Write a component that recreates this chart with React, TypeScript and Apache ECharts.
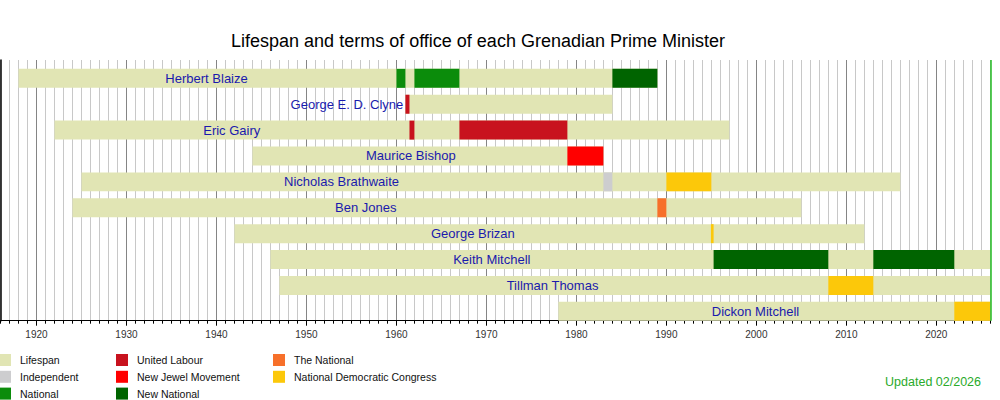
import React, { useEffect, useRef } from "react";
import * as echarts from "echarts";

const FONT = "'Liberation Sans', Arial, Helvetica, sans-serif";

const MIN_YEAR = 1916;
const MAX_YEAR = 2026;
const MAJOR_YEARS = [1920, 1930, 1940, 1950, 1960, 1970, 1980, 1990, 2000, 2010, 2020];
const UPDATED_YEAR = 2026;

const primeMinisters = [
  "Herbert Blaize",
  "George E. D. Clyne",
  "Eric Gairy",
  "Maurice Bishop",
  "Nicholas Brathwaite",
  "Ben Jones",
  "George Brizan",
  "Keith Mitchell",
  "Tillman Thomas",
  "Dickon Mitchell",
];
// year at which each name label is centred
const labelYears = [1938.9, 1954.5, 1941.7, 1961.6, 1953.9, 1956.6, 1968.5, 1970.6, 1977.35, 1999.9];

// [start, end, row]
const lifespan = [
  [1918, 1989, 0],
  [1961, 1984, 1],
  [1922, 1997, 2],
  [1944, 1983, 3],
  [1925, 2016, 4],
  [1924, 2005, 5],
  [1942, 2012, 6],
  [1946, 2026, 7],
  [1947, 2026, 8],
  [1978, 2026, 9],
];
const independent = [[1983, 1984, 4]];
const national = [
  [1960, 1961, 0],
  [1962, 1967, 0],
];
const unitedLabour = [
  [1961, 1961.45, 1],
  [1961.45, 1962, 2],
  [1967, 1979, 2],
];
const newJewelMovement = [[1979, 1983, 3]];
const newNational = [
  [1984, 1989, 0],
  [1995.25, 2008, 7],
  [2013, 2022, 7],
];
const theNational = [[1989, 1990, 5]];
const ndc = [
  [1990, 1995, 4],
  [1994.95, 1995.25, 6],
  [2008, 2013, 8],
  [2022, 2026, 9],
];

const seriesDefs = [
  { name: "Lifespan", color: "#e1e5b4", data: lifespan },
  { name: "Independent", color: "#cdcdcf", data: independent },
  { name: "National", color: "#0b8c0b", data: national },
  { name: "United Labour", color: "#c8121e", data: unitedLabour },
  { name: "New Jewel Movement", color: "#ff0000", data: newJewelMovement },
  { name: "New National", color: "#006400", data: newNational },
  { name: "The National", color: "#f7702a", data: theNational },
  { name: "National Democratic Congress", color: "#fcc80a", data: ndc },
];

const legendColumns = [
  ["Lifespan", "Independent", "National"],
  ["United Labour", "New Jewel Movement", "New National"],
  ["The National", "National Democratic Congress"],
];
const legendLeft = [-1, 116, 273];

const BAR_HEIGHT = 0.734;

export default function App() {
  const ref = useRef<HTMLDivElement>(null);

  useEffect(() => {
    if (!ref.current) return;
    const chart = echarts.init(ref.current, undefined, { renderer: "svg" });

    const splitColors = Array.from({ length: 10 }, (_, i) =>
      (MIN_YEAR + i) % 10 === 0 ? "#858585" : "#c8c8c8"
    );

    const barSeries = seriesDefs.map((s, si) => ({
      type: "custom",
      name: s.name,
      xAxisIndex: 0,
      yAxisIndex: 0,
      itemStyle: { color: s.color },
      z: 2 + (si === 0 ? 0 : 1),
      silent: true,
      encode: { x: [0, 1], y: 2 },
      data: s.data,
      renderItem: (params: any, api: any) => {
        const row = api.value(2);
        const a = api.coord([api.value(0), row]);
        const b = api.coord([api.value(1), row]);
        const h = api.size([0, BAR_HEIGHT])[1];
        return {
          type: "rect",
          shape: { x: a[0], y: a[1] - h / 2, width: b[0] - a[0], height: h },
          style: { fill: s.color },
        };
      },
      ...(si === 0
        ? {
            markLine: {
              silent: true,
              symbol: "none",
              label: { show: false },
              lineStyle: { color: "#22bb22", width: 1.5, type: "solid" },
              data: [{ xAxis: UPDATED_YEAR }],
            },
          }
        : {}),
    }));

    const labelSeries = {
      type: "custom",
      name: "names",
      xAxisIndex: 0,
      yAxisIndex: 0,
      z: 10,
      silent: true,
      data: labelYears.map((y, i) => [y, i]),
      renderItem: (params: any, api: any) => {
        const p = api.coord([api.value(0), api.value(1)]);
        return {
          type: "text",
          x: p[0],
          y: p[1],
          style: {
            text: primeMinisters[params.dataIndex],
            fill: "#1a1aad",
            fontSize: 13,
            fontFamily: FONT,
            align: "center",
            verticalAlign: "middle",
          },
        };
      },
    };

    const option: any = {
      animation: false,
      grid: {
        left: 0.5,
        right: 9.7,
        top: 60,
        bottom: 79.3,
        containLabel: false,
        outerBoundsMode: "none",
      },
      xAxis: [
        {
          type: "value",
          min: MIN_YEAR,
          max: MAX_YEAR,
          interval: 1,
          position: "bottom",
          axisLine: { show: true, onZero: false, lineStyle: { color: "#000", width: 1 } },
          axisTick: { show: true, length: 3, lineStyle: { color: "#000", width: 1 } },
          axisLabel: { show: false },
          splitLine: { show: true, lineStyle: { color: splitColors, width: 1 } },
        },
        {
          type: "value",
          min: MIN_YEAR,
          max: MAX_YEAR,
          position: "bottom",
          axisLine: { show: false, onZero: false },
          axisTick: {
            show: true,
            length: 5,
            customValues: MAJOR_YEARS,
            lineStyle: { color: "#000", width: 1 },
          },
          axisLabel: {
            show: true,
            customValues: MAJOR_YEARS,
            formatter: (v: number) => String(v),
            fontSize: 10,
            color: "#333",
            fontFamily: FONT,
            margin: 9,
          },
          splitLine: { show: false },
        },
      ],
      yAxis: {
        type: "value",
        inverse: true,
        min: -0.709,
        max: 9.364,
        axisLine: { show: true, onZero: false, lineStyle: { color: "#000", width: 1.5 } },
        axisTick: { show: false },
        axisLabel: { show: false },
        splitLine: { show: false },
      },
      legend: legendColumns.map((names, i) => ({
        data: names,
        orient: "vertical",
        left: legendLeft[i],
        top: 354,
        padding: 0,
        itemWidth: 12,
        itemHeight: 12,
        itemGap: 4.8,
        icon: "rect",
        selectedMode: false,
        textStyle: { fontSize: 10.5, color: "#111", fontFamily: FONT, padding: [0, 0, 0, 4] },
      })),
      graphic: [
        {
          type: "text",
          x: 478,
          y: 41,
          style: {
            text: "Lifespan and terms of office of each Grenadian Prime Minister",
            fill: "#000",
            fontSize: 18,
            fontFamily: FONT,
            align: "center",
            verticalAlign: "middle",
          },
        },
        {
          type: "text",
          x: 981,
          y: 382,
          style: {
            text: "Updated 02/2026",
            fill: "#2aaa2a",
            fontSize: 12.5,
            fontFamily: FONT,
            align: "right",
            verticalAlign: "middle",
          },
        },
      ],
      series: [...barSeries, labelSeries],
    };

    chart.setOption(option);
    return () => chart.dispose();
  }, []);

  return (
    <div
      ref={ref}
      style={{ position: "absolute", left: 0, top: 0, width: 1000, height: 400, background: "#fff" }}
    />
  );
}
